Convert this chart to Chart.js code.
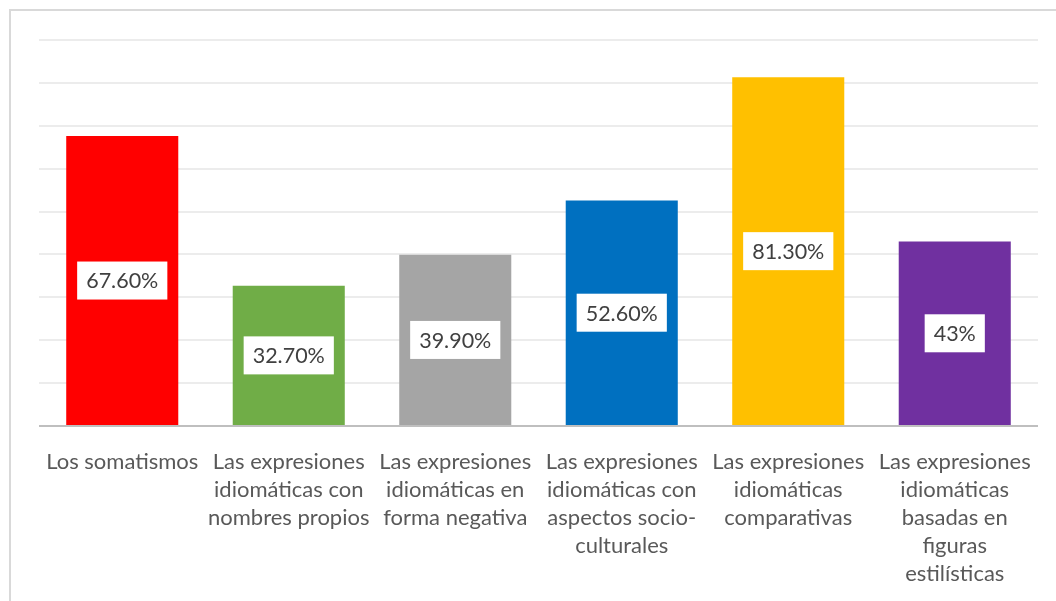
<!DOCTYPE html>
<html>
<head>
<meta charset="utf-8">
<script src="https://cdn.jsdelivr.net/npm/chart.js@4/dist/chart.umd.min.js"></script>
<style>
  html, body { margin: 0; padding: 0; background: #fff; overflow: hidden; }
  #wrap { width: 1056px; height: 601px; position: relative; }
</style>
</head>
<body>
<div id="wrap"><canvas id="chart"></canvas></div>
<script>
// categorías (etiquetas del eje x, ya partidas en líneas)
const categories = [
    ['Los somatismos'],
    ['Las expresiones', 'idiomáticas con', 'nombres propios'],
    ['Las expresiones', 'idiomáticas en', 'forma negativa'],
    ['Las expresiones', 'idiomáticas con', 'aspectos socio-', 'culturales'],
    ['Las expresiones', 'idiomáticas', 'comparativas'],
    ['Las expresiones', 'idiomáticas', 'basadas en', 'figuras', 'estilísticas']
];
const values = [67.6, 32.7, 39.9, 52.6, 81.3, 43];
const valueLabels = ['67.60%', '32.70%', '39.90%', '52.60%', '81.30%', '43%'];
const barColors = ['#ff0000', '#70ad47', '#a5a5a5', '#0070c0', '#ffc000', '#7030a0'];

const FONT = 'Lato, "Open Sans", sans-serif';

// marco gris del gráfico
const framePlugin = {
    id: 'frame',
    beforeDraw(chart) {
        const ctx = chart.ctx;
        ctx.save();
        ctx.strokeStyle = '#d9d9d9';
        ctx.lineWidth = 2;
        ctx.strokeRect(10, 10, 1200, 800);
        ctx.restore();
    }
};

// etiquetas de valor en cajas blancas en el centro de cada barra
const boxLabels = {
    id: 'boxLabels',
    afterDatasetsDraw(chart) {
        const ctx = chart.ctx;
        const meta = chart.getDatasetMeta(0);
        ctx.save();
        ctx.font = '21.5px ' + FONT;
        ctx.textAlign = 'center';
        ctx.textBaseline = 'middle';
        meta.data.forEach((bar, i) => {
            const text = valueLabels[i];
            const cy = (bar.y + bar.base) / 2;
            const w = ctx.measureText(text).width + 18;
            const h = 38;
            ctx.fillStyle = '#ffffff';
            ctx.fillRect(bar.x - w / 2, cy - h / 2, w, h);
            ctx.fillStyle = '#404040';
            ctx.fillText(text, bar.x, cy + 1);
        });
        ctx.restore();
    }
};

new Chart(document.getElementById('chart'), {
    type: 'bar',
    data: {
        labels: categories,
        datasets: [{
            data: values,
            backgroundColor: barColors,
            borderWidth: 0,
            categoryPercentage: 1,
            barPercentage: 0.673
        }]
    },
    options: {
        responsive: true,
        maintainAspectRatio: false,
        animation: false,
        layout: { padding: { left: 39, right: 18, top: 40, bottom: 0 } },
        plugins: { legend: { display: false }, tooltip: { enabled: false } },
        scales: {
            x: {
                grid: { display: false, drawTicks: false },
                border: { display: false },
                ticks: {
                    color: '#595959',
                    font: { family: FONT, size: 22, lineHeight: 1.27 },
                    padding: 22,
                    maxRotation: 0,
                    autoSkip: false
                },
                afterFit(scale) { scale.height = 175; }
            },
            y: {
                min: 0,
                max: 90,
                ticks: { display: false, stepSize: 10 },
                grid: {
                    drawTicks: false,
                    lineWidth: 2,
                    color: c => c.tick && c.tick.value === 0 ? '#bfbfbf' : '#ececec'
                },
                border: { display: false }
            }
        }
    },
    plugins: [framePlugin, boxLabels]
});
</script>
</body>
</html>
